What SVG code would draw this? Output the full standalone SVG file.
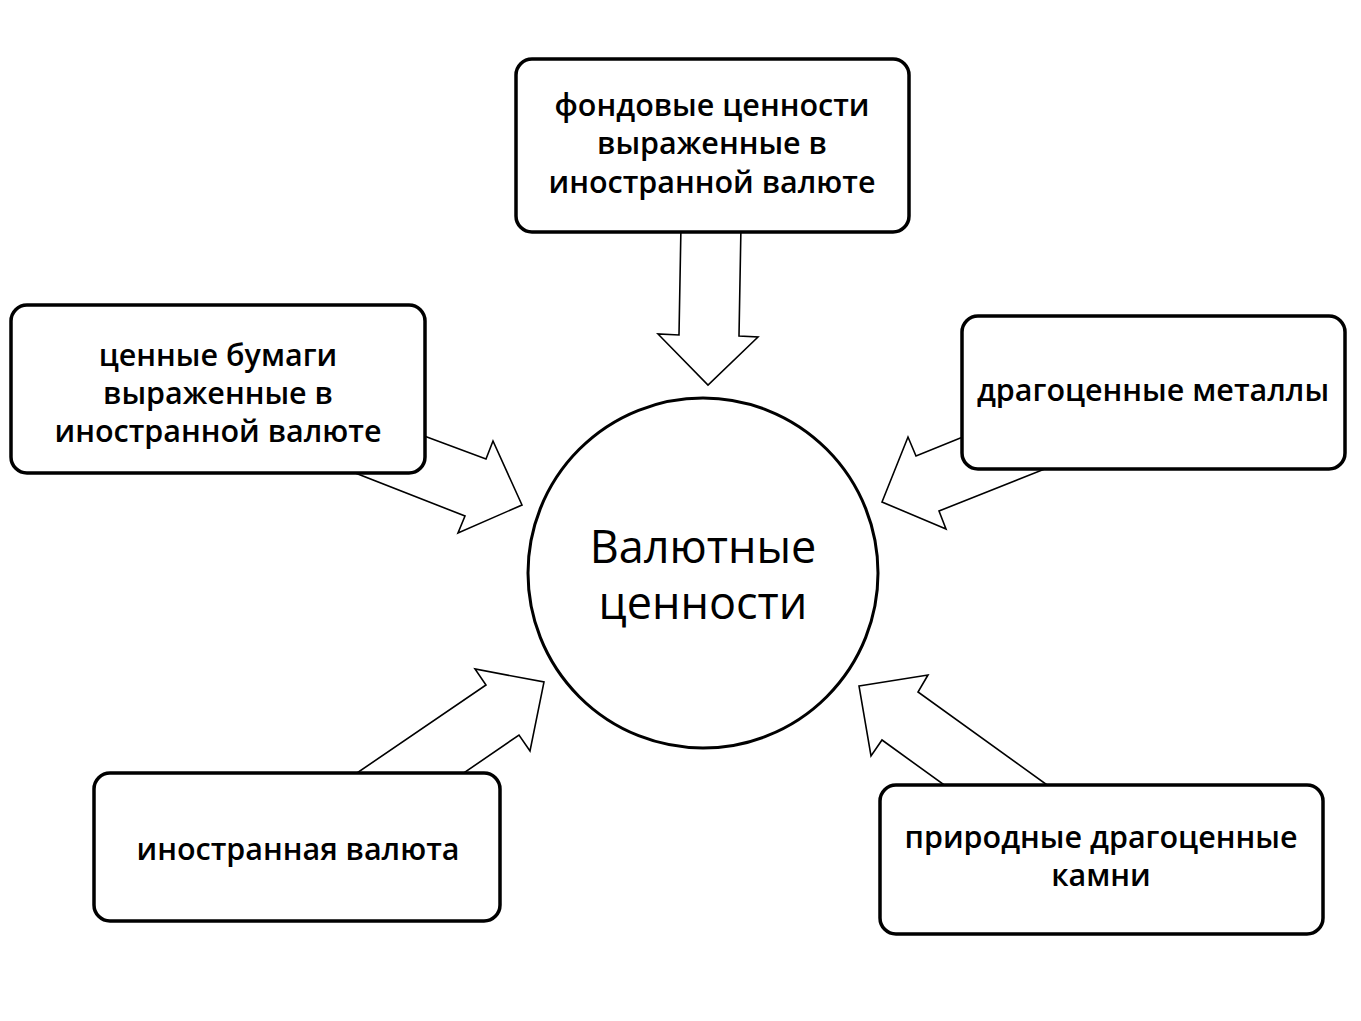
<svg xmlns="http://www.w3.org/2000/svg" width="1361" height="1021" viewBox="0 0 1361 1021">
<style>
.box{fill:#fff;stroke:#000;stroke-width:3.5}
.arr{fill:#fff;stroke:#000;stroke-width:1.6;stroke-linejoin:miter}
.t{font-family:"Open Sans","Noto Sans","DejaVu Sans",sans-serif;font-size:30.5px;font-weight:600;fill:#000;text-anchor:middle}
.c{font-family:"Open Sans","Noto Sans","DejaVu Sans",sans-serif;font-size:45px;fill:#000;text-anchor:middle}
</style>
<rect width="1361" height="1021" fill="#fff"/>
<g id="connectors">
<polygon class="arr" points="681,225 679,335 658,334 708,385 758,337 739,336 741,225"/>
<polygon class="arr" points="400,427 486,459 493,441 522,505 458,533 465,516 340,467"/>
<polygon class="arr" points="990,426 916,456 908,437 882,502 946,529 939,511 1060,463"/>
<polygon class="arr" points="332,790 486,685 475,669 544,682 530,751 519,735 439,790"/>
<polygon class="arr" points="859,686 928,675 918,692 1068,800 965,800 882,740 871,756"/>
</g>
<g id="center">
<circle cx="703" cy="573" r="175" fill="#fff" stroke="#000" stroke-width="3"/>
<text class="c" x="703" y="563">Валютные</text>
<text class="c" x="703" y="619">ценности</text>
</g>
<g id="top">
<rect class="box" x="516" y="59" width="393" height="173" rx="16"/>
<text class="t" x="712" y="116">фондовые ценности</text>
<text class="t" x="712" y="154">выраженные в</text>
<text class="t" x="712" y="193">иностранной валюте</text>
</g>
<g id="left">
<rect class="box" x="11" y="305" width="414" height="168" rx="16"/>
<text class="t" x="218" y="366">ценные бумаги</text>
<text class="t" x="218" y="404">выраженные в</text>
<text class="t" x="218" y="442">иностранной валюте</text>
</g>
<g id="right">
<rect class="box" x="962" y="316" width="383" height="153" rx="16"/>
<text class="t" x="1153" y="401">драгоценные металлы</text>
</g>
<g id="bottom-left">
<rect class="box" x="94" y="773" width="406" height="148" rx="16"/>
<text class="t" x="298" y="860">иностранная валюта</text>
</g>
<g id="bottom-right">
<rect class="box" x="880" y="785" width="443" height="149" rx="16"/>
<text class="t" x="1101" y="848">природные драгоценные</text>
<text class="t" x="1101" y="886">камни</text>
</g>
</svg>
